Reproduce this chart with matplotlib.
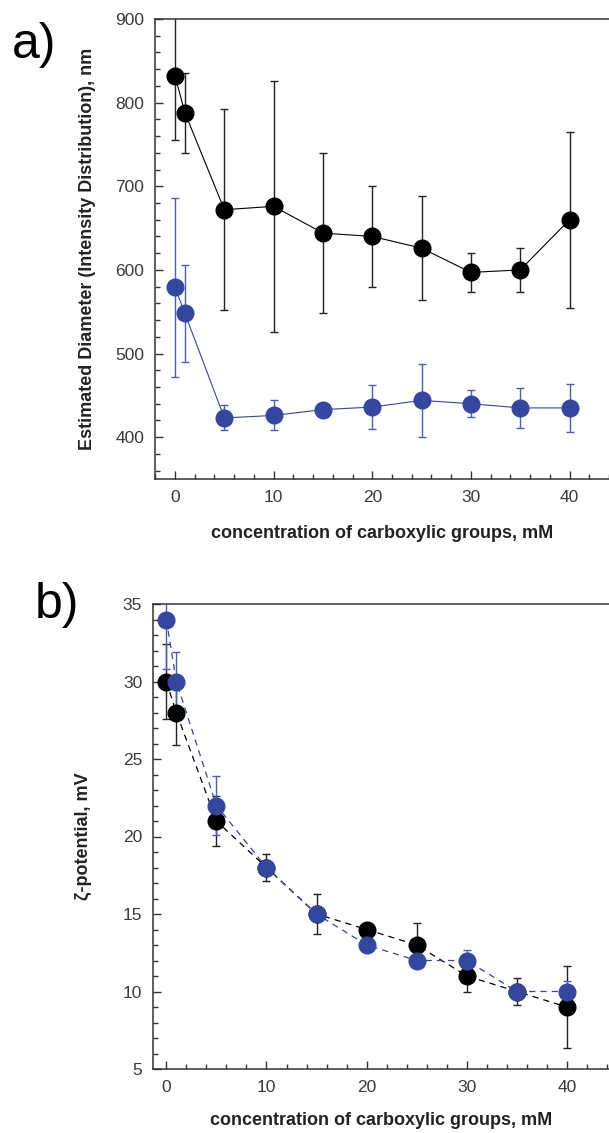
import numpy as np
import matplotlib.pyplot as plt
from matplotlib.ticker import MultipleLocator

plt.rcParams['font.family'] = ['Liberation Sans', 'DejaVu Sans']

conc = [0, 1, 5, 10, 15, 20, 25, 30, 35, 40]

# panel a: estimated diameter, nm
diam_black = [832, 788, 672, 676, 644, 640, 626, 597, 600, 660]
diam_black_err = [77, 48, 120, 150, 96, 60, 62, 23, 26, 105]
diam_blue = [579, 548, 423, 426, 433, 436, 444, 440, 435, 435]
diam_blue_err = [107, 58, 15, 18, 3, 26, 44, 16, 24, 29]

# panel b: zeta potential, mV
zeta_black = [30, 28, 21, 18, 15, 14, 13, 11, 10, 9]
zeta_black_err = [2.4, 2.1, 1.6, 0.9, 1.3, 0.3, 1.4, 1.0, 0.9, 2.65]
zeta_blue = [34, 30, 22, 18, 15, 13, 12, 12, 10, 10]
zeta_blue_err = [3.2, 1.9, 1.9, 0.5, 0.5, 0.3, 0.3, 0.7, 0.5, 0.7]

blue = '#3347a0'
blue_err = '#4a5ec2'
W, H = 609, 1133

fig = plt.figure(figsize=(W / 100, H / 100), dpi=100)
ax1 = fig.add_axes([155.3 / W, 1 - 479 / H, 1 - 155.3 / W, (479 - 19) / H])
ax2 = fig.add_axes([153.3 / W, 1 - 1069 / H, 1 - 153.3 / W, (1069 - 604) / H])


def style(ax, xlim, ylim, ymaj, ymin, xpad):
    ax.set_xlim(*xlim)
    ax.set_ylim(*ylim)
    ax.xaxis.set_major_locator(MultipleLocator(10))
    ax.xaxis.set_minor_locator(MultipleLocator(2))
    ax.yaxis.set_major_locator(MultipleLocator(ymaj))
    ax.yaxis.set_minor_locator(MultipleLocator(ymin))
    ax.tick_params(which='both', direction='in', colors='#333333', width=1.0,
                   labelsize=12.5, labelcolor='#3a3a3a', top=False, right=False)
    ax.tick_params(which='major', length=6, pad=8)
    ax.tick_params(which='minor', length=3.5)
    ax.spines['right'].set_visible(False)
    for s in ['left', 'bottom', 'top']:
        ax.spines[s].set_color('#333333')
        ax.spines[s].set_linewidth(1.1)
    ax.set_xlabel('concentration of carboxylic groups, mM', fontsize=13,
                  fontweight='bold', labelpad=xpad, color='#222222')


ax1.errorbar(conc, diam_black, yerr=diam_black_err, fmt='-o', color='black',
             ecolor='#222222', elinewidth=1.0, capsize=3, lw=0.8, ms=12)
ax1.errorbar(conc, diam_blue, yerr=diam_blue_err, fmt='-o', color=blue,
             ecolor=blue_err, elinewidth=1.0, capsize=3, lw=0.8, ms=12)
style(ax1, (-2, 44), (350, 900), 100, 20, 14)
ax1.set_ylabel('Estimated Diameter (Intensity Distribution), nm', fontsize=13,
               fontweight='bold', labelpad=14, color='#222222')

ax2.errorbar(conc, zeta_black, yerr=zeta_black_err, fmt='o', color='black',
             ecolor='#222222', elinewidth=1.0, capsize=3, ms=12)
ax2.plot(conc, zeta_black, '--', color='black', lw=0.9, dashes=(5, 4))
ax2.errorbar(conc, zeta_blue, yerr=zeta_blue_err, fmt='o', color=blue,
             ecolor=blue_err, elinewidth=1.0, capsize=3, ms=12)
ax2.plot(conc, zeta_blue, '--', color=blue, lw=0.9, dashes=(5, 4))
style(ax2, (-1.3, 44.2), (5, 35), 5, 1, 12)
ax2.set_ylabel('ζ-potential, mV', fontsize=13, fontweight='bold',
               labelpad=22, color='#222222')

fig.text(12 / W, 1 - 45 / H, 'a)', fontsize=36, va='center', ha='left')
fig.text(35 / W, 1 - 605 / H, 'b)', fontsize=36, va='center', ha='left')

fig.savefig('out.png', dpi=100)
